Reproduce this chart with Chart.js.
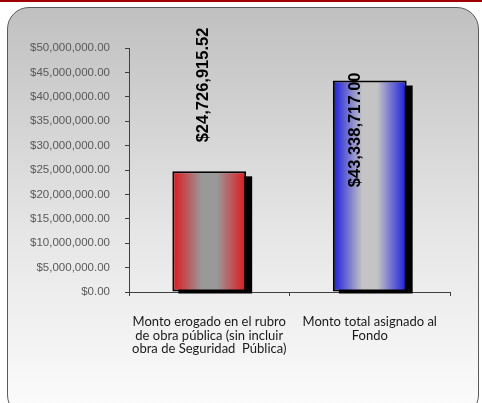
<!DOCTYPE html>
<html>
<head>
<meta charset="utf-8">
<script src="https://cdn.jsdelivr.net/npm/chart.js@4/dist/chart.umd.min.js"></script>
<style>
  html, body { margin: 0; padding: 0; background: #fff; }
  #wrap { position: relative; width: 482px; height: 403px; overflow: hidden; }
  #topline { position: absolute; left: 0; top: 0; width: 482px; height: 2px; background: #a00000; }
  #frame {
    position: absolute; left: 7px; top: 7px; width: 472px; height: 410px;
    box-sizing: border-box; border: 1.5px solid #5a5a5a; border-radius: 22px;
    background: linear-gradient(to bottom, #c0c0c0 0%, #e6e6e6 55%, #fcfcfc 100%);
  }
  #myChart { position: absolute; left: 0; top: 0; }
</style>
</head>
<body>
<div id="wrap">
  <div id="topline"></div>
  <div id="frame"></div>
  <canvas id="myChart" width="482" height="403"></canvas>
</div>
<script>
// data
const categories = [
    ['Monto erogado en el rubro', 'de obra pública (sin incluir', 'obra de Seguridad  Pública)'],
    ['Monto total asignado al', 'Fondo']
];
const amounts = [24726915.52, 43338717.00];
const valueLabels = ['$24,726,915.52', '$43,338,717.00'];
const edgeColors = ['#e0161c', '#1a1ae0'];
const midColors = ['#999999', '#c4c4c4'];

function money(v) {
    return '$' + v.toLocaleString('en-US', {minimumFractionDigits: 2, maximumFractionDigits: 2});
}

function barGradient(context) {
    const chart = context.chart;
    const xs = chart.scales.x;
    const i = context.dataIndex;
    if (!xs || i === undefined) return edgeColors[0];
    const catW = (xs.right - xs.left) / categories.length;
    const w = catW * 0.46;
    const cx = xs.getPixelForValue(i);
    if (!isFinite(cx) || !isFinite(w) || w <= 0) return edgeColors[i];
    const g = chart.ctx.createLinearGradient(cx - w / 2, 0, cx + w / 2, 0);
    g.addColorStop(0, edgeColors[i]);
    g.addColorStop(0.4, midColors[i]);
    g.addColorStop(0.6, midColors[i]);
    g.addColorStop(1, edgeColors[i]);
    return g;
}

// black offset shadow behind each bar
const barShadow = {
    id: 'barShadow',
    beforeDatasetsDraw(chart) {
        const ctx = chart.ctx;
        const meta = chart.getDatasetMeta(0);
        ctx.save();
        ctx.fillStyle = '#000';
        meta.data.forEach(function (bar) {
            ctx.fillRect(bar.x - bar.width / 2 + 6, bar.y + 5, bar.width, bar.base - bar.y - 3);
        });
        ctx.restore();
    }
};

// rotated value labels: outside end if room, else inside end
const valueText = {
    id: 'valueText',
    afterDatasetsDraw(chart) {
        const ctx = chart.ctx;
        const meta = chart.getDatasetMeta(0);
        ctx.save();
        ctx.font = 'bold 16.5px "Liberation Sans", Arial, sans-serif';
        ctx.fillStyle = '#000';
        ctx.textBaseline = 'middle';
        ctx.textAlign = 'left';
        meta.data.forEach(function (bar, i) {
            const txt = valueLabels[i];
            const tw = ctx.measureText(txt).width;
            let bottom = bar.y - 29;
            let x = bar.x - 6;
            if (bottom - tw < 15) {
                bottom = bar.y - 8 + tw;
                x = bar.x - 14;
            }
            ctx.save();
            ctx.translate(x, bottom);
            ctx.rotate(-Math.PI / 2);
            ctx.fillText(txt, 0, 0);
            ctx.restore();
        });
        ctx.restore();
    }
};

const config = {
    type: 'bar',
    data: {
        labels: categories,
        datasets: [{
            data: amounts,
            backgroundColor: barGradient,
            borderColor: '#000',
            borderWidth: 2,
            borderSkipped: false,
            categoryPercentage: 1,
            barPercentage: 0.46
        }]
    },
    options: {
        responsive: false,
        animation: false,
        layout: {padding: {top: 48, right: 32, left: 0, bottom: 0}},
        plugins: {legend: {display: false}, tooltip: {enabled: false}},
        scales: {
            y: {
                min: 0,
                max: 50000000,
                ticks: {
                    stepSize: 5000000,
                    color: '#595959',
                    font: {family: '"Liberation Sans", Arial, sans-serif', size: 11.5},
                    padding: 15,
                    callback: function (v) { return money(v); }
                },
                grid: {drawOnChartArea: false, tickLength: 4, color: '#404040'},
                border: {color: '#404040', width: 1},
                afterFit: function (scale) { scale.width = 129; }
            },
            x: {
                ticks: {
                    color: '#1a1a1a',
                    font: {family: 'Lato, "Open Sans", sans-serif', size: 13, lineHeight: 1.05},
                    padding: 19,
                    maxRotation: 0,
                    autoSkip: false
                },
                grid: {drawOnChartArea: false, tickLength: 4, color: '#404040', offset: true},
                border: {color: '#404040', width: 1},
                afterFit: function (scale) { scale.height = 111; }
            }
        }
    },
    plugins: [barShadow, valueText]
};

var myChart = new Chart(document.getElementById('myChart'), config);
</script>
</body>
</html>
